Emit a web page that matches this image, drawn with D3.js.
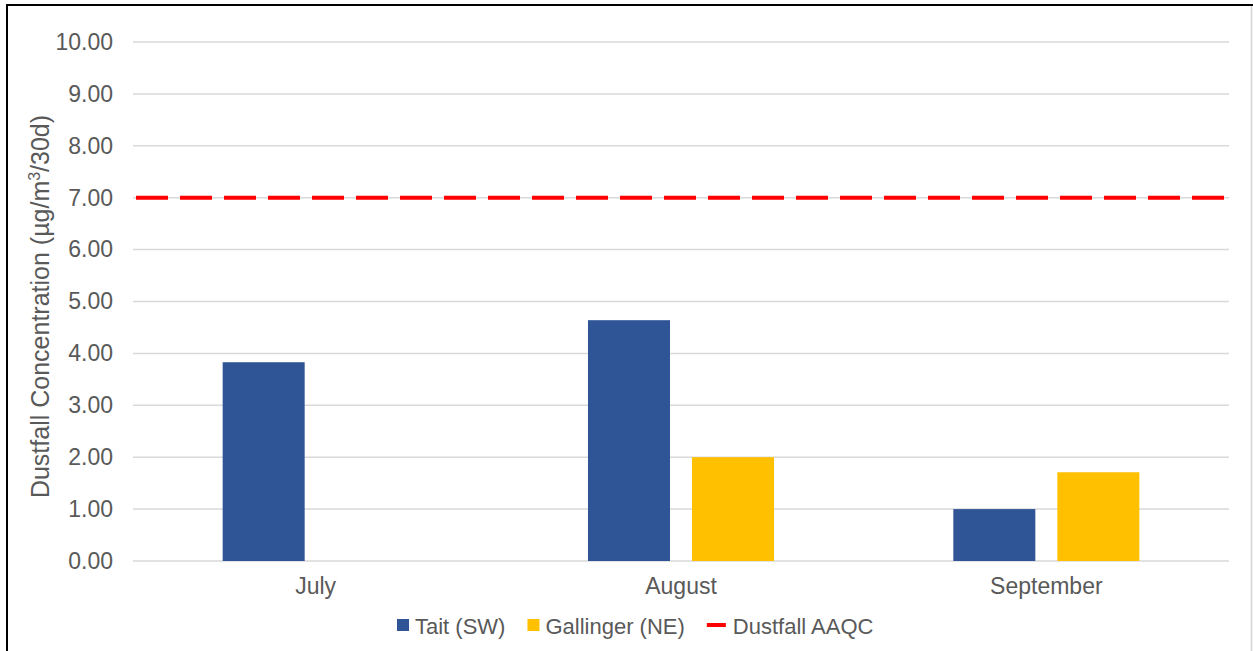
<!DOCTYPE html>
<html>
<head>
<meta charset="utf-8">
<script src="https://cdn.jsdelivr.net/npm/d3@7"></script>
<style>
  html, body { margin:0; padding:0; background:#fff; }
  svg { display:block; font-family:"Liberation Sans", Arial, sans-serif; }
</style>
</head>
<body>
<div id="chart"></div>
<script>
// ---- data ----
const months    = ["July", "August", "September"];
const seriesIds = ["Tait (SW)", "Gallinger (NE)"];
const tait      = [3.83, 4.64, 1.00];
const gallinger = [null, 2.00, 1.71];
const aaqc      = 7.0;
const yTicks    = [0, 1, 2, 3, 4, 5, 6, 7, 8, 9, 10];
const colors    = {"Tait (SW)": "#2f5597", "Gallinger (NE)": "#ffc000"};

const W = 1253, H = 651;
const svg = d3.select("#chart").append("svg").attr("width", W).attr("height", H);

// frame (screenshot border)
svg.append("line").attr("x1", 6).attr("x2", 1253).attr("y1", 5).attr("y2", 5)
   .attr("stroke", "#000").attr("stroke-width", 2);
svg.append("line").attr("x1", 7).attr("x2", 7).attr("y1", 4).attr("y2", H)
   .attr("stroke", "#000").attr("stroke-width", 2);
svg.append("line").attr("x1", 1251.5).attr("x2", 1251.5).attr("y1", 6).attr("y2", H)
   .attr("stroke", "#d4d4d4").attr("stroke-width", 1.5);

// ---- scales ----
const plot = {left: 133, right: 1229, top: 42, bottom: 561};
const x = d3.scaleBand().domain(months).range([plot.left, plot.right]).padding(0);
const xs = d3.scaleBand().domain(seriesIds).range([0, x.bandwidth()])
   .paddingInner(0.2115).paddingOuter(0.862);
const y = d3.scaleLinear().domain([0, 10]).range([plot.bottom, plot.top]);

// grid
svg.append("g").selectAll("line").data(yTicks).enter().append("line")
   .attr("x1", plot.left).attr("x2", plot.right)
   .attr("y1", d => y(d)).attr("y2", d => y(d))
   .attr("stroke", "#d9d9d9").attr("stroke-width", 1.5);

// y axis labels
const yAxis = svg.append("g").attr("transform", `translate(${plot.left - 20},0)`)
   .call(d3.axisLeft(y).tickValues(yTicks).tickFormat(d3.format(".2f")).tickSize(0).tickPadding(0));
yAxis.select(".domain").remove();
yAxis.selectAll("text").attr("fill", "#595959").style("font-size", "23px")
   .style("font-family", "Liberation Sans, Arial, sans-serif");

// x axis labels
const xAxis = svg.append("g").attr("transform", `translate(0,${plot.bottom + 17})`)
   .call(d3.axisBottom(x).tickSize(0).tickPadding(0));
xAxis.select(".domain").remove();
xAxis.selectAll("text").attr("fill", "#595959").attr("dy", "0.71em").style("font-size", "23px")
   .style("font-family", "Liberation Sans, Arial, sans-serif");

// y title
svg.append("text")
   .attr("transform", `translate(49,${(110 + 503) / 2}) rotate(-90)`)
   .attr("text-anchor", "middle").attr("fill", "#595959").style("font-size", "25px")
   .call(t => {
     t.append("tspan").text("Dustfall Concentration (µg/m");
     t.append("tspan").attr("dy", -9).style("font-size", "16px").text("3");
     t.append("tspan").attr("dy", 9).text("/30d)");
   });

// bars
const rows = months.map((m, i) => ({month: m, vals: [
  {id: seriesIds[0], v: tait[i]}, {id: seriesIds[1], v: gallinger[i]}
]}));
svg.append("g").selectAll("g").data(rows).enter().append("g")
   .attr("transform", d => `translate(${x(d.month)},0)`)
   .selectAll("rect").data(d => d.vals.filter(e => e.v != null)).enter().append("rect")
   .attr("x", d => xs(d.id)).attr("width", xs.bandwidth())
   .attr("y", d => y(d.v)).attr("height", d => y(0) - y(d.v))
   .attr("fill", d => colors[d.id]);

// AAQC line
svg.append("line").attr("x1", plot.left + 3).attr("x2", plot.right)
   .attr("y1", y(aaqc)).attr("y2", y(aaqc))
   .attr("stroke", "#ff0000").attr("stroke-width", 4).attr("stroke-dasharray", "32,12");

// legend
const leg = svg.append("g").attr("transform", "translate(0,634)");
const items = [
  {label: "Tait (SW)", type: "box", color: colors["Tait (SW)"]},
  {label: "Gallinger (NE)", type: "box", color: colors["Gallinger (NE)"]},
  {label: "Dustfall AAQC", type: "line", color: "#ff0000"}
];
let lx = 397;
items.forEach((it, i) => {
  const g = leg.append("g");
  let sw;
  if (it.type === "box") {
    g.append("rect").attr("x", lx).attr("y", -15).attr("width", 12).attr("height", 12).attr("fill", it.color);
    sw = 18;
  } else {
    g.append("line").attr("x1", lx).attr("x2", lx + 19).attr("y1", -9).attr("y2", -9)
     .attr("stroke", it.color).attr("stroke-width", 4);
    sw = 26;
  }
  const t = g.append("text").attr("x", lx + sw).attr("y", 0).attr("fill", "#595959")
     .style("font-size", "22px").text(it.label);
  lx += sw + t.node().getComputedTextLength() + 22;
});
</script>
</body>
</html>
